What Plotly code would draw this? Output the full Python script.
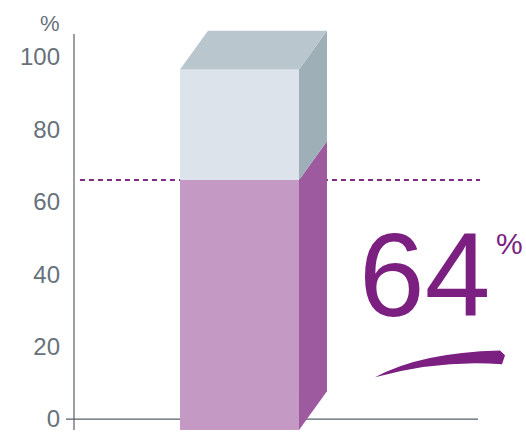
import plotly.graph_objects as go

# ---- data ----
categories = ["Share"]
total_values = [96.5]      # top of grey block (%)
share_values = [66]        # top of purple block (%)
bar_base = [-3]            # bar continues slightly below 0
reference_line = [66]      # dashed line level (%)
headline = "64"
y_ticks = [0, 20, 40, 60, 80, 100]
y_tick_labels = ["0", "20", "40", "60", "80", "100"]

# ---- style ----
W, H = 526, 432
ML, MR, MT, MB = 74, 46, 20, 0
PW, PH = W - ML - MR, H - MT - MB
Y0, Y1 = -3.02, 110.17
X0, X1 = -1.391, 2.021
BAR_W = 1.0
DX, DY = 0.235, 10.7

C_FRONT_P = "#C49AC4"
C_SIDE_P = "#9E5A9E"
C_FRONT_G = "#DCE3EA"
C_TOP_G = "#B9C6CE"
C_SIDE_G = "#9EAFB8"
C_AXIS = "#56606A"
C_TXT = "#67717B"
C_PURPLE = "#7B1F80"

fig = go.Figure()

# dashed reference line (behind bar)
fig.add_trace(go.Scatter(x=[X0 + 0.05, X1], y=[reference_line[0]] * 2, mode="lines",
                         line=dict(color="#7E2C82", width=2, dash="5px,4px"),
                         hoverinfo="skip", showlegend=False))

def poly(xs, ys, color):
    fig.add_trace(go.Scatter(x=xs + [xs[0]], y=ys + [ys[0]], mode="lines", fill="toself",
                             fillcolor=color, line=dict(width=0, color=color),
                             hoverinfo="skip", showlegend=False))

for i, cat in enumerate(categories):
    xc = i
    xa, xb = xc - BAR_W / 2, xc + BAR_W / 2
    b, s, t = bar_base[i], share_values[i], total_values[i]
    # front faces
    poly([xa, xb, xb, xa], [b, b, s, s], C_FRONT_P)
    poly([xa, xb, xb, xa], [s, s, t, t], C_FRONT_G)
    # side faces
    poly([xb, xb + DX, xb + DX, xb], [b, b + DY, s + DY, s], C_SIDE_P)
    poly([xb, xb + DX, xb + DX, xb], [s, s + DY, t + DY, t], C_SIDE_G)
    # top face
    poly([xa, xb, xb + DX, xa + DX], [t, t, t + DY, t + DY], C_TOP_G)

def px(x):
    return (x - ML) / PW

def py(y):
    return (H - MB - y) / PH

# axis lines
fig.add_shape(type="line", xref="paper", yref="y", x0=px(66), x1=px(478), y0=0, y1=0,
              line=dict(color=C_AXIS, width=1.2), layer="below")
fig.add_shape(type="line", xref="paper", yref="y", x0=0, x1=0, y0=Y0, y1=106.3,
              line=dict(color=C_AXIS, width=1.2), layer="above")

# headline
fig.add_annotation(xref="paper", yref="paper", x=px(424), y=py(276), text=headline,
                   showarrow=False, font=dict(family="Liberation Sans Narrow, Liberation Sans, Arial",
                                              size=118, color=C_PURPLE),
                   xanchor="center", yanchor="middle")
fig.add_annotation(xref="paper", yref="paper", x=px(494), y=py(245), text="%",
                   showarrow=False, font=dict(family="Liberation Sans, Arial",
                                              size=30, color=C_PURPLE),
                   xanchor="left", yanchor="middle")
swoosh = "M {},{} Q {},{} {},{} L {},{} L {},{} Q {},{} {},{} Z".format(
    px(375), py(379), px(420), py(354), px(500), py(352), px(505), py(357),
    px(502), py(366), px(440), py(361), px(375), py(379))
fig.add_shape(type="path", xref="paper", yref="paper", path=swoosh,
              fillcolor=C_PURPLE, line=dict(width=0))

# % axis title
fig.add_annotation(xref="paper", yref="paper", x=px(50), y=py(24), text="%", showarrow=False,
                   font=dict(family="Liberation Sans, Arial", size=22, color=C_TXT),
                   xanchor="center", yanchor="middle")

fig.update_layout(
    width=W, height=H, margin=dict(l=ML, r=MR, t=MT, b=MB),
    plot_bgcolor="white", paper_bgcolor="white",
    xaxis=dict(range=[X0, X1], visible=False, fixedrange=True),
    yaxis=dict(range=[Y0, Y1], tickvals=y_ticks, ticktext=y_tick_labels, showgrid=False,
               zeroline=False, showline=False, ticks="", ticklabelstandoff=13,
               ticklabeloverflow="allow",
               tickfont=dict(family="Liberation Sans, Arial", size=24, color=C_TXT)),
    showlegend=False,
)

fig.write_html("out.html")
